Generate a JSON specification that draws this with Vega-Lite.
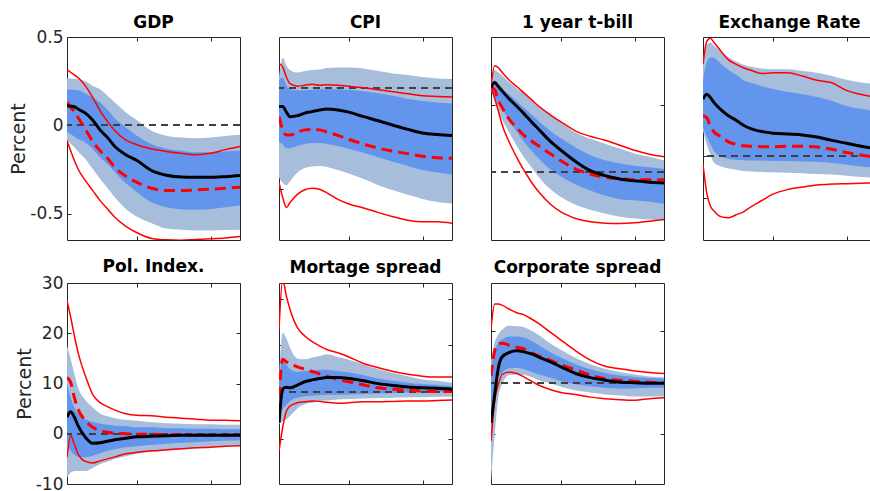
{
"$schema": "https://vega.github.io/schema/vega-lite/v6.json",
"padding": {"left": 9, "top": 14, "right": 0, "bottom": 0},
"background": "white",
"datasets": {"irf": [
{"p":"GDP","h":1,"lo1":-0.084,"hi1":0.266,"lo2":-0.04,"hi2":0.204,"med":0.11,"alt":0.129,"rlo":-0.088,"rhi":0.315},
{"p":"GDP","h":2,"lo1":-0.103,"hi1":0.265,"lo2":-0.05,"hi2":0.202,"med":0.108,"alt":0.101,"rlo":-0.144,"rhi":0.3},
{"p":"GDP","h":3,"lo1":-0.125,"hi1":0.263,"lo2":-0.065,"hi2":0.2,"med":0.105,"alt":0.078,"rlo":-0.2,"rhi":0.285},
{"p":"GDP","h":4,"lo1":-0.148,"hi1":0.261,"lo2":-0.078,"hi2":0.199,"med":0.092,"alt":0.044,"rlo":-0.248,"rhi":0.27},
{"p":"GDP","h":6,"lo1":-0.191,"hi1":0.25,"lo2":-0.097,"hi2":0.18,"med":0.069,"alt":-0.022,"rlo":-0.314,"rhi":0.223},
{"p":"GDP","h":8,"lo1":-0.248,"hi1":0.223,"lo2":-0.135,"hi2":0.157,"med":0.029,"alt":-0.093,"rlo":-0.37,"rhi":0.157},
{"p":"GDP","h":10,"lo1":-0.304,"hi1":0.204,"lo2":-0.182,"hi2":0.129,"med":-0.027,"alt":-0.144,"rlo":-0.427,"rhi":0.082},
{"p":"GDP","h":12,"lo1":-0.355,"hi1":0.167,"lo2":-0.219,"hi2":0.088,"med":-0.069,"alt":-0.187,"rlo":-0.474,"rhi":0.022},
{"p":"GDP","h":14,"lo1":-0.408,"hi1":0.129,"lo2":-0.266,"hi2":0.04,"med":-0.12,"alt":-0.238,"rlo":-0.521,"rhi":-0.031},
{"p":"GDP","h":17,"lo1":-0.474,"hi1":0.073,"lo2":-0.329,"hi2":-0.012,"med":-0.167,"alt":-0.289,"rlo":-0.573,"rhi":-0.084},
{"p":"GDP","h":20,"lo1":-0.517,"hi1":0.029,"lo2":-0.379,"hi2":-0.059,"med":-0.2,"alt":-0.323,"rlo":-0.609,"rhi":-0.11},
{"p":"GDP","h":24,"lo1":-0.555,"hi1":-0.031,"lo2":-0.436,"hi2":-0.108,"med":-0.257,"alt":-0.357,"rlo":-0.641,"rhi":-0.135},
{"p":"GDP","h":28,"lo1":-0.585,"hi1":-0.059,"lo2":-0.464,"hi2":-0.133,"med":-0.283,"alt":-0.37,"rlo":-0.649,"rhi":-0.148},
{"p":"GDP","h":32,"lo1":-0.592,"hi1":-0.069,"lo2":-0.476,"hi2":-0.144,"med":-0.293,"alt":-0.37,"rlo":-0.651,"rhi":-0.159},
{"p":"GDP","h":36,"lo1":-0.596,"hi1":-0.073,"lo2":-0.479,"hi2":-0.153,"med":-0.295,"alt":-0.366,"rlo":-0.647,"rhi":-0.167},
{"p":"GDP","h":40,"lo1":-0.596,"hi1":-0.069,"lo2":-0.474,"hi2":-0.153,"med":-0.295,"alt":-0.362,"rlo":-0.643,"rhi":-0.159},
{"p":"GDP","h":44,"lo1":-0.594,"hi1":-0.061,"lo2":-0.464,"hi2":-0.148,"med":-0.291,"alt":-0.357,"rlo":-0.638,"rhi":-0.138},
{"p":"GDP","h":48,"lo1":-0.592,"hi1":-0.054,"lo2":-0.455,"hi2":-0.144,"med":-0.285,"alt":-0.351,"rlo":-0.63,"rhi":-0.12},
{"p":"CPI","h":1,"lo1":-0.177,"hi1":0.02,"lo2":-0.106,"hi2":0.015,"med":-0.037,"alt":-0.057,"rlo":-0.187,"rhi":0.048},
{"p":"CPI","h":2,"lo1":-0.187,"hi1":0.059,"lo2":-0.112,"hi2":0.02,"med":-0.037,"alt":-0.083,"rlo":-0.216,"rhi":0.041},
{"p":"CPI","h":3,"lo1":-0.192,"hi1":0.044,"lo2":-0.119,"hi2":0.005,"med":-0.048,"alt":-0.093,"rlo":-0.236,"rhi":0.021},
{"p":"CPI","h":4,"lo1":-0.184,"hi1":0.035,"lo2":-0.119,"hi2":-0.003,"med":-0.057,"alt":-0.093,"rlo":-0.226,"rhi":0.008},
{"p":"CPI","h":6,"lo1":-0.167,"hi1":0.03,"lo2":-0.115,"hi2":-0.005,"med":-0.055,"alt":-0.088,"rlo":-0.21,"rhi":0.003},
{"p":"CPI","h":8,"lo1":-0.158,"hi1":0.033,"lo2":-0.111,"hi2":-0.005,"med":-0.05,"alt":-0.083,"rlo":-0.201,"rhi":0.005},
{"p":"CPI","h":10,"lo1":-0.155,"hi1":0.035,"lo2":-0.109,"hi2":-0.004,"med":-0.047,"alt":-0.082,"rlo":-0.198,"rhi":0.007},
{"p":"CPI","h":12,"lo1":-0.154,"hi1":0.036,"lo2":-0.109,"hi2":-0.003,"med":-0.044,"alt":-0.083,"rlo":-0.2,"rhi":0.005},
{"p":"CPI","h":14,"lo1":-0.156,"hi1":0.039,"lo2":-0.111,"hi2":-0.003,"med":-0.042,"alt":-0.087,"rlo":-0.207,"rhi":0.006},
{"p":"CPI","h":17,"lo1":-0.162,"hi1":0.04,"lo2":-0.115,"hi2":-0.003,"med":-0.044,"alt":-0.094,"rlo":-0.22,"rhi":0.005},
{"p":"CPI","h":20,"lo1":-0.169,"hi1":0.04,"lo2":-0.12,"hi2":-0.004,"med":-0.048,"alt":-0.102,"rlo":-0.229,"rhi":0.003},
{"p":"CPI","h":24,"lo1":-0.18,"hi1":0.038,"lo2":-0.128,"hi2":-0.007,"med":-0.057,"alt":-0.111,"rlo":-0.237,"rhi":0.0},
{"p":"CPI","h":28,"lo1":-0.192,"hi1":0.033,"lo2":-0.137,"hi2":-0.011,"med":-0.065,"alt":-0.119,"rlo":-0.246,"rhi":-0.004},
{"p":"CPI","h":32,"lo1":-0.202,"hi1":0.028,"lo2":-0.146,"hi2":-0.016,"med":-0.074,"alt":-0.125,"rlo":-0.254,"rhi":-0.008},
{"p":"CPI","h":36,"lo1":-0.211,"hi1":0.025,"lo2":-0.154,"hi2":-0.022,"med":-0.082,"alt":-0.13,"rlo":-0.261,"rhi":-0.012},
{"p":"CPI","h":40,"lo1":-0.219,"hi1":0.021,"lo2":-0.162,"hi2":-0.026,"med":-0.089,"alt":-0.135,"rlo":-0.264,"rhi":-0.016},
{"p":"CPI","h":44,"lo1":-0.225,"hi1":0.018,"lo2":-0.167,"hi2":-0.029,"med":-0.092,"alt":-0.138,"rlo":-0.264,"rhi":-0.017},
{"p":"CPI","h":48,"lo1":-0.228,"hi1":0.017,"lo2":-0.171,"hi2":-0.031,"med":-0.094,"alt":-0.139,"rlo":-0.267,"rhi":-0.018},
{"p":"TB","h":1,"lo1":0.61,"hi1":0.659,"lo2":0.61,"hi2":0.646,"med":0.627,"alt":0.627,"rlo":0.622,"rhi":0.634},
{"p":"TB","h":2,"lo1":0.524,"hi1":0.756,"lo2":0.561,"hi2":0.678,"med":0.663,"alt":0.61,"rlo":0.549,"rhi":0.788},
{"p":"TB","h":3,"lo1":0.451,"hi1":0.737,"lo2":0.512,"hi2":0.651,"med":0.634,"alt":0.529,"rlo":0.451,"rhi":0.773},
{"p":"TB","h":4,"lo1":0.39,"hi1":0.715,"lo2":0.471,"hi2":0.622,"med":0.602,"alt":0.48,"rlo":0.354,"rhi":0.739},
{"p":"TB","h":6,"lo1":0.293,"hi1":0.666,"lo2":0.38,"hi2":0.573,"med":0.541,"alt":0.39,"rlo":0.22,"rhi":0.68},
{"p":"TB","h":8,"lo1":0.195,"hi1":0.622,"lo2":0.3,"hi2":0.524,"med":0.488,"alt":0.329,"rlo":0.11,"rhi":0.634},
{"p":"TB","h":10,"lo1":0.11,"hi1":0.578,"lo2":0.225,"hi2":0.476,"med":0.432,"alt":0.273,"rlo":0.012,"rhi":0.585},
{"p":"TB","h":12,"lo1":0.037,"hi1":0.534,"lo2":0.16,"hi2":0.427,"med":0.373,"alt":0.232,"rlo":-0.073,"rhi":0.537},
{"p":"TB","h":14,"lo1":-0.037,"hi1":0.49,"lo2":0.1,"hi2":0.378,"med":0.317,"alt":0.195,"rlo":-0.146,"rhi":0.488},
{"p":"TB","h":17,"lo1":-0.122,"hi1":0.432,"lo2":0.025,"hi2":0.31,"med":0.232,"alt":0.139,"rlo":-0.232,"rhi":0.427},
{"p":"TB","h":20,"lo1":-0.183,"hi1":0.371,"lo2":-0.03,"hi2":0.251,"med":0.163,"alt":0.085,"rlo":-0.293,"rhi":0.373},
{"p":"TB","h":24,"lo1":-0.239,"hi1":0.293,"lo2":-0.09,"hi2":0.183,"med":0.08,"alt":0.024,"rlo":-0.341,"rhi":0.305},
{"p":"TB","h":28,"lo1":-0.276,"hi1":0.249,"lo2":-0.134,"hi2":0.127,"med":0.012,"alt":-0.012,"rlo":-0.366,"rhi":0.266},
{"p":"TB","h":32,"lo1":-0.305,"hi1":0.212,"lo2":-0.171,"hi2":0.09,"med":-0.024,"alt":-0.037,"rlo":-0.376,"rhi":0.237},
{"p":"TB","h":36,"lo1":-0.329,"hi1":0.176,"lo2":-0.198,"hi2":0.066,"med":-0.049,"alt":-0.046,"rlo":-0.378,"rhi":0.2},
{"p":"TB","h":40,"lo1":-0.341,"hi1":0.139,"lo2":-0.207,"hi2":0.049,"med":-0.063,"alt":-0.054,"rlo":-0.373,"rhi":0.163},
{"p":"TB","h":44,"lo1":-0.349,"hi1":0.115,"lo2":-0.217,"hi2":0.037,"med":-0.073,"alt":-0.054,"rlo":-0.361,"rhi":0.134},
{"p":"TB","h":48,"lo1":-0.354,"hi1":0.09,"lo2":-0.232,"hi2":0.024,"med":-0.078,"alt":-0.054,"rlo":-0.349,"rhi":0.115},
{"p":"EX","h":1,"lo1":0.06,"hi1":0.23,"lo2":0.067,"hi2":0.179,"med":0.135,"alt":0.095,"rlo":-0.02,"rhi":0.218},
{"p":"EX","h":2,"lo1":0.028,"hi1":0.264,"lo2":0.046,"hi2":0.222,"med":0.147,"alt":0.091,"rlo":-0.087,"rhi":0.272},
{"p":"EX","h":3,"lo1":0.004,"hi1":0.27,"lo2":0.028,"hi2":0.234,"med":0.139,"alt":0.071,"rlo":-0.119,"rhi":0.28},
{"p":"EX","h":4,"lo1":-0.016,"hi1":0.262,"lo2":0.012,"hi2":0.233,"med":0.127,"alt":0.057,"rlo":-0.131,"rhi":0.27},
{"p":"EX","h":6,"lo1":-0.025,"hi1":0.248,"lo2":-0.002,"hi2":0.218,"med":0.109,"alt":0.046,"rlo":-0.145,"rhi":0.248},
{"p":"EX","h":8,"lo1":-0.03,"hi1":0.234,"lo2":-0.007,"hi2":0.204,"med":0.095,"alt":0.033,"rlo":-0.147,"rhi":0.228},
{"p":"EX","h":10,"lo1":-0.033,"hi1":0.225,"lo2":-0.009,"hi2":0.193,"med":0.085,"alt":0.028,"rlo":-0.14,"rhi":0.218},
{"p":"EX","h":12,"lo1":-0.036,"hi1":0.217,"lo2":-0.01,"hi2":0.18,"med":0.073,"alt":0.024,"rlo":-0.133,"rhi":0.21},
{"p":"EX","h":14,"lo1":-0.037,"hi1":0.212,"lo2":-0.011,"hi2":0.174,"med":0.065,"alt":0.023,"rlo":-0.121,"rhi":0.204},
{"p":"EX","h":17,"lo1":-0.038,"hi1":0.208,"lo2":-0.011,"hi2":0.166,"med":0.058,"alt":0.022,"rlo":-0.106,"rhi":0.196},
{"p":"EX","h":20,"lo1":-0.039,"hi1":0.206,"lo2":-0.012,"hi2":0.159,"med":0.054,"alt":0.022,"rlo":-0.091,"rhi":0.198},
{"p":"EX","h":24,"lo1":-0.04,"hi1":0.206,"lo2":-0.012,"hi2":0.152,"med":0.052,"alt":0.023,"rlo":-0.08,"rhi":0.198},
{"p":"EX","h":28,"lo1":-0.041,"hi1":0.202,"lo2":-0.013,"hi2":0.147,"med":0.05,"alt":0.023,"rlo":-0.074,"rhi":0.19},
{"p":"EX","h":32,"lo1":-0.043,"hi1":0.198,"lo2":-0.014,"hi2":0.14,"med":0.045,"alt":0.021,"rlo":-0.069,"rhi":0.18},
{"p":"EX","h":36,"lo1":-0.044,"hi1":0.19,"lo2":-0.017,"hi2":0.131,"med":0.037,"alt":0.016,"rlo":-0.067,"rhi":0.174},
{"p":"EX","h":40,"lo1":-0.047,"hi1":0.181,"lo2":-0.021,"hi2":0.119,"med":0.03,"alt":0.008,"rlo":-0.066,"rhi":0.156},
{"p":"EX","h":44,"lo1":-0.05,"hi1":0.175,"lo2":-0.025,"hi2":0.112,"med":0.023,"alt":0.002,"rlo":-0.065,"rhi":0.146},
{"p":"EX","h":48,"lo1":-0.052,"hi1":0.171,"lo2":-0.028,"hi2":0.106,"med":0.017,"alt":-0.004,"rlo":-0.064,"rhi":0.14},
{"p":"PI","h":1,"lo1":-8.7,"hi1":17.5,"lo2":-2.1,"hi2":10.2,"med":3.3,"alt":11.2,"rlo":-4.7,"rhi":26.5},
{"p":"PI","h":2,"lo1":-7.7,"hi1":14.9,"lo2":-3.4,"hi2":7.2,"med":4.4,"alt":10.2,"rlo":-0.4,"rhi":23.2},
{"p":"PI","h":3,"lo1":-7.4,"hi1":11.9,"lo2":-4.2,"hi2":5.2,"med":3.3,"alt":7.2,"rlo":-2.1,"rhi":19.5},
{"p":"PI","h":4,"lo1":-7.4,"hi1":9.2,"lo2":-4.6,"hi2":4.0,"med":1.6,"alt":4.9,"rlo":-4.0,"rhi":16.2},
{"p":"PI","h":6,"lo1":-7.4,"hi1":6.7,"lo2":-4.7,"hi2":2.9,"med":-0.7,"alt":2.6,"rlo":-5.5,"rhi":11.5},
{"p":"PI","h":8,"lo1":-6.8,"hi1":5.2,"lo2":-4.4,"hi2":2.4,"med":-1.9,"alt":1.3,"rlo":-5.8,"rhi":7.8},
{"p":"PI","h":10,"lo1":-6.0,"hi1":4.0,"lo2":-3.9,"hi2":2.0,"med":-1.8,"alt":0.6,"rlo":-5.4,"rhi":6.2},
{"p":"PI","h":12,"lo1":-5.5,"hi1":3.5,"lo2":-3.4,"hi2":1.8,"med":-1.5,"alt":0.3,"rlo":-5.0,"rhi":5.4},
{"p":"PI","h":14,"lo1":-5.0,"hi1":3.1,"lo2":-3.1,"hi2":1.6,"med":-1.2,"alt":0.1,"rlo":-4.6,"rhi":4.7},
{"p":"PI","h":17,"lo1":-4.5,"hi1":2.8,"lo2":-2.7,"hi2":1.5,"med":-0.9,"alt":0.0,"rlo":-4.0,"rhi":4.0},
{"p":"PI","h":20,"lo1":-4.0,"hi1":2.6,"lo2":-2.5,"hi2":1.3,"med":-0.6,"alt":-0.1,"rlo":-3.7,"rhi":3.7},
{"p":"PI","h":24,"lo1":-3.6,"hi1":2.3,"lo2":-2.2,"hi2":1.3,"med":-0.5,"alt":-0.1,"rlo":-3.4,"rhi":3.6},
{"p":"PI","h":28,"lo1":-3.4,"hi1":2.1,"lo2":-2.0,"hi2":1.1,"med":-0.4,"alt":-0.2,"rlo":-3.2,"rhi":3.3},
{"p":"PI","h":32,"lo1":-3.1,"hi1":2.0,"lo2":-1.8,"hi2":1.1,"med":-0.3,"alt":-0.2,"rlo":-3.0,"rhi":3.1},
{"p":"PI","h":36,"lo1":-2.9,"hi1":1.9,"lo2":-1.7,"hi2":1.0,"med":-0.3,"alt":-0.3,"rlo":-2.8,"rhi":2.9},
{"p":"PI","h":40,"lo1":-2.7,"hi1":1.9,"lo2":-1.5,"hi2":1.0,"med":-0.3,"alt":-0.3,"rlo":-2.7,"rhi":2.7},
{"p":"PI","h":44,"lo1":-2.6,"hi1":1.8,"lo2":-1.4,"hi2":0.9,"med":-0.3,"alt":-0.3,"rlo":-2.5,"rhi":2.7},
{"p":"PI","h":48,"lo1":-2.4,"hi1":1.8,"lo2":-1.3,"hi2":0.9,"med":-0.3,"alt":-0.3,"rlo":-2.4,"rhi":2.6},
{"p":"MS","h":1,"lo1":-6.9,"hi1":3.1,"lo2":-5.5,"hi2":1.6,"med":-6.6,"alt":-1.2,"rlo":-12.6,"rhi":13.4},
{"p":"MS","h":2,"lo1":-6.2,"hi1":12.7,"lo2":-3.7,"hi2":7.2,"med":0.6,"alt":7.0,"rlo":-7.6,"rhi":24.1},
{"p":"MS","h":3,"lo1":-5.9,"hi1":11.5,"lo2":-2.8,"hi2":5.9,"med":1.0,"alt":6.5,"rlo":-4.1,"rhi":20.6},
{"p":"MS","h":4,"lo1":-5.1,"hi1":9.5,"lo2":-1.9,"hi2":4.9,"med":0.9,"alt":6.1,"rlo":-3.0,"rhi":17.7},
{"p":"MS","h":6,"lo1":-3.5,"hi1":7.2,"lo2":-1.2,"hi2":4.3,"med":1.5,"alt":5.4,"rlo":-2.3,"rhi":13.8},
{"p":"MS","h":8,"lo1":-2.6,"hi1":7.0,"lo2":-0.9,"hi2":4.5,"med":2.2,"alt":4.9,"rlo":-2.1,"rhi":12.0},
{"p":"MS","h":10,"lo1":-2.3,"hi1":7.4,"lo2":-0.8,"hi2":4.6,"med":2.6,"alt":4.4,"rlo":-1.9,"rhi":10.8},
{"p":"MS","h":12,"lo1":-1.9,"hi1":7.7,"lo2":-0.7,"hi2":4.8,"med":2.9,"alt":3.9,"rlo":-2.0,"rhi":9.9},
{"p":"MS","h":14,"lo1":-1.8,"hi1":8.1,"lo2":-0.6,"hi2":4.8,"med":3.1,"alt":3.4,"rlo":-2.2,"rhi":9.1},
{"p":"MS","h":17,"lo1":-1.6,"hi1":7.5,"lo2":-0.6,"hi2":4.5,"med":3.1,"alt":2.7,"rlo":-2.4,"rhi":8.4},
{"p":"MS","h":20,"lo1":-1.5,"hi1":6.9,"lo2":-0.5,"hi2":4.2,"med":2.9,"alt":2.2,"rlo":-2.3,"rhi":7.5},
{"p":"MS","h":24,"lo1":-1.4,"hi1":5.9,"lo2":-0.4,"hi2":3.6,"med":2.4,"alt":1.5,"rlo":-2.1,"rhi":6.1},
{"p":"MS","h":28,"lo1":-1.3,"hi1":4.9,"lo2":-0.3,"hi2":2.9,"med":1.8,"alt":0.9,"rlo":-2.1,"rhi":5.2},
{"p":"MS","h":32,"lo1":-1.2,"hi1":4.1,"lo2":-0.2,"hi2":2.4,"med":1.4,"alt":0.6,"rlo":-2.0,"rhi":4.4},
{"p":"MS","h":36,"lo1":-1.1,"hi1":3.4,"lo2":-0.1,"hi2":2.0,"med":1.1,"alt":0.4,"rlo":-1.9,"rhi":3.8},
{"p":"MS","h":40,"lo1":-1.1,"hi1":2.7,"lo2":-0.1,"hi2":1.7,"med":0.9,"alt":0.2,"rlo":-1.9,"rhi":3.4},
{"p":"MS","h":44,"lo1":-1.0,"hi1":2.4,"lo2":0.0,"hi2":1.5,"med":0.8,"alt":0.1,"rlo":-1.8,"rhi":3.2},
{"p":"MS","h":48,"lo1":-1.0,"hi1":2.0,"lo2":0.1,"hi2":1.3,"med":0.6,"alt":0.1,"rlo":-1.7,"rhi":3.2},
{"p":"CS","h":1,"lo1":-19.2,"hi1":4.2,"lo2":-10.7,"hi2":2.3,"med":-7.8,"alt":1.3,"rlo":-11.4,"rhi":10.4},
{"p":"CS","h":2,"lo1":-10.1,"hi1":7.8,"lo2":-2.9,"hi2":6.2,"med":-2.3,"alt":6.2,"rlo":-3.6,"rhi":15.3},
{"p":"CS","h":3,"lo1":-2.9,"hi1":9.4,"lo2":1.0,"hi2":7.8,"med":2.9,"alt":7.5,"rlo":-0.3,"rhi":15.3},
{"p":"CS","h":4,"lo1":-0.3,"hi1":10.3,"lo2":1.9,"hi2":8.4,"med":5.0,"alt":7.7,"rlo":1.6,"rhi":15.1},
{"p":"CS","h":6,"lo1":1.5,"hi1":11.1,"lo2":2.8,"hi2":9.0,"med":5.9,"alt":7.3,"rlo":2.1,"rhi":14.3},
{"p":"CS","h":8,"lo1":1.6,"hi1":11.0,"lo2":2.9,"hi2":9.0,"med":6.2,"alt":6.9,"rlo":1.8,"rhi":13.6},
{"p":"CS","h":10,"lo1":1.5,"hi1":10.8,"lo2":2.6,"hi2":8.8,"med":6.0,"alt":6.6,"rlo":1.1,"rhi":13.2},
{"p":"CS","h":12,"lo1":1.1,"hi1":10.1,"lo2":2.1,"hi2":8.1,"med":5.6,"alt":5.8,"rlo":0.3,"rhi":12.4},
{"p":"CS","h":14,"lo1":0.5,"hi1":9.3,"lo2":1.6,"hi2":7.3,"med":5.0,"alt":5.2,"rlo":-0.5,"rhi":11.5},
{"p":"CS","h":17,"lo1":-0.1,"hi1":7.7,"lo2":1.0,"hi2":6.0,"med":4.1,"alt":4.4,"rlo":-1.3,"rhi":9.9},
{"p":"CS","h":20,"lo1":-0.8,"hi1":6.4,"lo2":0.3,"hi2":4.9,"med":3.1,"alt":3.5,"rlo":-1.9,"rhi":8.3},
{"p":"CS","h":24,"lo1":-1.5,"hi1":4.8,"lo2":-0.3,"hi2":3.6,"med":1.8,"alt":2.5,"rlo":-2.3,"rhi":6.2},
{"p":"CS","h":28,"lo1":-1.9,"hi1":3.6,"lo2":-0.7,"hi2":2.6,"med":1.0,"alt":1.5,"rlo":-2.8,"rhi":4.4},
{"p":"CS","h":32,"lo1":-2.3,"hi1":2.7,"lo2":-1.0,"hi2":1.9,"med":0.5,"alt":0.8,"rlo":-3.1,"rhi":3.2},
{"p":"CS","h":36,"lo1":-2.5,"hi1":2.1,"lo2":-1.1,"hi2":1.4,"med":0.1,"alt":0.5,"rlo":-3.3,"rhi":2.7},
{"p":"CS","h":40,"lo1":-2.7,"hi1":1.6,"lo2":-1.1,"hi2":1.1,"med":0.0,"alt":0.3,"rlo":-3.4,"rhi":2.3},
{"p":"CS","h":44,"lo1":-2.7,"hi1":1.2,"lo2":-1.0,"hi2":0.9,"med":-0.1,"alt":0.1,"rlo":-3.1,"rhi":2.0},
{"p":"CS","h":48,"lo1":-2.7,"hi1":1.0,"lo2":-1.0,"hi2":0.8,"med":-0.1,"alt":0.0,"rlo":-2.9,"rhi":1.8}
]},
"data": {"name": "irf"},
"columns": 4,
"bounds": "flush",
"spacing": {"row": 43, "column": 39},
"concat": [
{"title": {"text": "GDP", "offset": -4}, "width": 173, "height": 203,
 "transform": [{"filter": "datum.p == 'GDP'"}],
 "layer": [
  {"mark": {"type": "area", "color": "#A6BDDB", "clip": true, "interpolate": "monotone"},
   "encoding": {"x": {"field": "h", "type": "quantitative", "scale": {"domain": [1, 48], "nice": false}, "axis": {"orient": "bottom", "values": [20, 40], "labels": false, "title": null}},
    "y": {"field": "lo1", "type": "quantitative", "scale": {"domain": [-0.65, 0.5], "nice": false, "zero": false}, "axis": {"orient": "left", "values": [-0.5, 0, 0.5], "title": "Percent", "format": "~r", "labelExpr": "replace(datum.label, '\u2212', '-')"}},
    "y2": {"field": "hi1"}}},
  {"mark": {"type": "area", "color": "#6495ED", "clip": true, "interpolate": "monotone"},
   "encoding": {"x": {"field": "h", "type": "quantitative", "scale": {"domain": [1, 48], "nice": false}, "axis": {"orient": "top", "values": [20, 40], "labels": false, "title": null}},
    "y": {"field": "lo2", "type": "quantitative", "scale": {"domain": [-0.65, 0.5], "nice": false, "zero": false}, "axis": {"orient": "right", "values": [-0.5, 0, 0.5], "labels": false, "title": null}},
    "y2": {"field": "hi2"}}},
  {"mark": {"type": "rule", "color": "#404040", "strokeDash": [7, 5], "strokeWidth": 1}, "encoding": {"y": {"datum": 0, "type": "quantitative", "scale": {"domain": [-0.65, 0.5], "nice": false, "zero": false}, "axis": null}}},
  {"mark": {"type": "line", "color": "#FF0000", "strokeWidth": 1.5, "clip": true, "interpolate": "monotone"}, "encoding": {"x": {"field": "h", "type": "quantitative", "scale": {"domain": [1, 48], "nice": false}, "axis": null}, "y": {"field": "rhi", "type": "quantitative", "scale": {"domain": [-0.65, 0.5], "nice": false, "zero": false}, "axis": null}}},
  {"mark": {"type": "line", "color": "#FF0000", "strokeWidth": 1.5, "clip": true, "interpolate": "monotone"}, "encoding": {"x": {"field": "h", "type": "quantitative", "scale": {"domain": [1, 48], "nice": false}, "axis": null}, "y": {"field": "rlo", "type": "quantitative", "scale": {"domain": [-0.65, 0.5], "nice": false, "zero": false}, "axis": null}}},
  {"mark": {"type": "line", "color": "#FF0000", "strokeWidth": 3, "strokeDash": [11, 6], "clip": true, "interpolate": "monotone"}, "encoding": {"x": {"field": "h", "type": "quantitative", "scale": {"domain": [1, 48], "nice": false}, "axis": null}, "y": {"field": "alt", "type": "quantitative", "scale": {"domain": [-0.65, 0.5], "nice": false, "zero": false}, "axis": null}}},
  {"mark": {"type": "line", "color": "#000000", "strokeWidth": 3, "clip": true, "interpolate": "monotone"}, "encoding": {"x": {"field": "h", "type": "quantitative", "scale": {"domain": [1, 48], "nice": false}, "axis": null}, "y": {"field": "med", "type": "quantitative", "scale": {"domain": [-0.65, 0.5], "nice": false, "zero": false}, "axis": null}}}
 ],
 "resolve": {"axis": {"x": "independent", "y": "independent"}}},
{"title": {"text": "CPI", "offset": 4.3}, "width": 173, "height": 203,
 "transform": [{"filter": "datum.p == 'CPI'"}],
 "layer": [
  {"mark": {"type": "area", "color": "#A6BDDB", "clip": true, "interpolate": "monotone"},
   "encoding": {"x": {"field": "h", "type": "quantitative", "scale": {"domain": [1, 48], "nice": false}, "axis": {"orient": "bottom", "values": [20, 40], "labels": false, "title": null}},
    "y": {"field": "lo1", "type": "quantitative", "scale": {"domain": [-0.3, 0.1], "nice": false, "zero": false}, "axis": {"orient": "left", "values": [-0.2, -0.1, 0], "labels": false, "title": null}},
    "y2": {"field": "hi1"}}},
  {"mark": {"type": "area", "color": "#6495ED", "clip": true, "interpolate": "monotone"},
   "encoding": {"x": {"field": "h", "type": "quantitative", "scale": {"domain": [1, 48], "nice": false}, "axis": {"orient": "top", "values": [20, 40], "labels": false, "title": null}},
    "y": {"field": "lo2", "type": "quantitative", "scale": {"domain": [-0.3, 0.1], "nice": false, "zero": false}, "axis": {"orient": "right", "values": [-0.2, -0.1, 0], "labels": false, "title": null}},
    "y2": {"field": "hi2"}}},
  {"mark": {"type": "rule", "color": "#404040", "strokeDash": [7, 5], "strokeWidth": 1}, "encoding": {"y": {"datum": 0, "type": "quantitative", "scale": {"domain": [-0.3, 0.1], "nice": false, "zero": false}, "axis": null}}},
  {"mark": {"type": "line", "color": "#FF0000", "strokeWidth": 1.5, "clip": true, "interpolate": "monotone"}, "encoding": {"x": {"field": "h", "type": "quantitative", "scale": {"domain": [1, 48], "nice": false}, "axis": null}, "y": {"field": "rhi", "type": "quantitative", "scale": {"domain": [-0.3, 0.1], "nice": false, "zero": false}, "axis": null}}},
  {"mark": {"type": "line", "color": "#FF0000", "strokeWidth": 1.5, "clip": true, "interpolate": "monotone"}, "encoding": {"x": {"field": "h", "type": "quantitative", "scale": {"domain": [1, 48], "nice": false}, "axis": null}, "y": {"field": "rlo", "type": "quantitative", "scale": {"domain": [-0.3, 0.1], "nice": false, "zero": false}, "axis": null}}},
  {"mark": {"type": "line", "color": "#FF0000", "strokeWidth": 3, "strokeDash": [11, 6], "clip": true, "interpolate": "monotone"}, "encoding": {"x": {"field": "h", "type": "quantitative", "scale": {"domain": [1, 48], "nice": false}, "axis": null}, "y": {"field": "alt", "type": "quantitative", "scale": {"domain": [-0.3, 0.1], "nice": false, "zero": false}, "axis": null}}},
  {"mark": {"type": "line", "color": "#000000", "strokeWidth": 3, "clip": true, "interpolate": "monotone"}, "encoding": {"x": {"field": "h", "type": "quantitative", "scale": {"domain": [1, 48], "nice": false}, "axis": null}, "y": {"field": "med", "type": "quantitative", "scale": {"domain": [-0.3, 0.1], "nice": false, "zero": false}, "axis": null}}}
 ],
 "resolve": {"axis": {"x": "independent", "y": "independent"}}},
{"title": {"text": "1 year t-bill", "offset": 4.3}, "width": 173, "height": 203,
 "transform": [{"filter": "datum.p == 'TB'"}],
 "layer": [
  {"mark": {"type": "area", "color": "#A6BDDB", "clip": true, "interpolate": "monotone"},
   "encoding": {"x": {"field": "h", "type": "quantitative", "scale": {"domain": [1, 48], "nice": false}, "axis": {"orient": "bottom", "values": [20, 40], "labels": false, "title": null}},
    "y": {"field": "lo1", "type": "quantitative", "scale": {"domain": [-0.5, 1], "nice": false, "zero": false}, "axis": {"orient": "left", "values": [0, 0.5], "labels": false, "title": null}},
    "y2": {"field": "hi1"}}},
  {"mark": {"type": "area", "color": "#6495ED", "clip": true, "interpolate": "monotone"},
   "encoding": {"x": {"field": "h", "type": "quantitative", "scale": {"domain": [1, 48], "nice": false}, "axis": {"orient": "top", "values": [20, 40], "labels": false, "title": null}},
    "y": {"field": "lo2", "type": "quantitative", "scale": {"domain": [-0.5, 1], "nice": false, "zero": false}, "axis": {"orient": "right", "values": [0, 0.5], "labels": false, "title": null}},
    "y2": {"field": "hi2"}}},
  {"mark": {"type": "rule", "color": "#404040", "strokeDash": [7, 5], "strokeWidth": 1}, "encoding": {"y": {"datum": 0, "type": "quantitative", "scale": {"domain": [-0.5, 1], "nice": false, "zero": false}, "axis": null}}},
  {"mark": {"type": "line", "color": "#FF0000", "strokeWidth": 1.5, "clip": true, "interpolate": "monotone"}, "encoding": {"x": {"field": "h", "type": "quantitative", "scale": {"domain": [1, 48], "nice": false}, "axis": null}, "y": {"field": "rhi", "type": "quantitative", "scale": {"domain": [-0.5, 1], "nice": false, "zero": false}, "axis": null}}},
  {"mark": {"type": "line", "color": "#FF0000", "strokeWidth": 1.5, "clip": true, "interpolate": "monotone"}, "encoding": {"x": {"field": "h", "type": "quantitative", "scale": {"domain": [1, 48], "nice": false}, "axis": null}, "y": {"field": "rlo", "type": "quantitative", "scale": {"domain": [-0.5, 1], "nice": false, "zero": false}, "axis": null}}},
  {"mark": {"type": "line", "color": "#FF0000", "strokeWidth": 3, "strokeDash": [11, 6], "clip": true, "interpolate": "monotone"}, "encoding": {"x": {"field": "h", "type": "quantitative", "scale": {"domain": [1, 48], "nice": false}, "axis": null}, "y": {"field": "alt", "type": "quantitative", "scale": {"domain": [-0.5, 1], "nice": false, "zero": false}, "axis": null}}},
  {"mark": {"type": "line", "color": "#000000", "strokeWidth": 3, "clip": true, "interpolate": "monotone"}, "encoding": {"x": {"field": "h", "type": "quantitative", "scale": {"domain": [1, 48], "nice": false}, "axis": null}, "y": {"field": "med", "type": "quantitative", "scale": {"domain": [-0.5, 1], "nice": false, "zero": false}, "axis": null}}}
 ],
 "resolve": {"axis": {"x": "independent", "y": "independent"}}},
{"title": {"text": "Exchange Rate", "offset": 4.3, "dx": 3}, "width": 167, "height": 203,
 "transform": [{"filter": "datum.p == 'EX'"}],
 "layer": [
  {"mark": {"type": "area", "color": "#A6BDDB", "clip": true, "interpolate": "monotone"},
   "encoding": {"x": {"field": "h", "type": "quantitative", "scale": {"domain": [1, 46.37], "nice": false}, "axis": {"orient": "bottom", "values": [20, 40], "labels": false, "title": null}},
    "y": {"field": "lo1", "type": "quantitative", "scale": {"domain": [-0.2, 0.283], "nice": false, "zero": false}, "axis": {"orient": "left", "values": [-0.1, 0, 0.1, 0.2], "labels": false, "title": null}},
    "y2": {"field": "hi1"}}},
  {"mark": {"type": "area", "color": "#6495ED", "clip": true, "interpolate": "monotone"},
   "encoding": {"x": {"field": "h", "type": "quantitative", "scale": {"domain": [1, 46.37], "nice": false}, "axis": {"orient": "top", "values": [20, 40], "labels": false, "title": null}},
    "y": {"field": "lo2", "type": "quantitative", "scale": {"domain": [-0.2, 0.283], "nice": false, "zero": false}, "axis": null},
    "y2": {"field": "hi2"}}},
  {"mark": {"type": "rule", "color": "#404040", "strokeDash": [7, 5], "strokeWidth": 1}, "encoding": {"y": {"datum": 0, "type": "quantitative", "scale": {"domain": [-0.2, 0.283], "nice": false, "zero": false}, "axis": null}}},
  {"mark": {"type": "line", "color": "#FF0000", "strokeWidth": 1.5, "clip": true, "interpolate": "monotone"}, "encoding": {"x": {"field": "h", "type": "quantitative", "scale": {"domain": [1, 46.37], "nice": false}, "axis": null}, "y": {"field": "rhi", "type": "quantitative", "scale": {"domain": [-0.2, 0.283], "nice": false, "zero": false}, "axis": null}}},
  {"mark": {"type": "line", "color": "#FF0000", "strokeWidth": 1.5, "clip": true, "interpolate": "monotone"}, "encoding": {"x": {"field": "h", "type": "quantitative", "scale": {"domain": [1, 46.37], "nice": false}, "axis": null}, "y": {"field": "rlo", "type": "quantitative", "scale": {"domain": [-0.2, 0.283], "nice": false, "zero": false}, "axis": null}}},
  {"mark": {"type": "line", "color": "#FF0000", "strokeWidth": 3, "strokeDash": [11, 6], "clip": true, "interpolate": "monotone"}, "encoding": {"x": {"field": "h", "type": "quantitative", "scale": {"domain": [1, 46.37], "nice": false}, "axis": null}, "y": {"field": "alt", "type": "quantitative", "scale": {"domain": [-0.2, 0.283], "nice": false, "zero": false}, "axis": null}}},
  {"mark": {"type": "line", "color": "#000000", "strokeWidth": 3, "clip": true, "interpolate": "monotone"}, "encoding": {"x": {"field": "h", "type": "quantitative", "scale": {"domain": [1, 46.37], "nice": false}, "axis": null}, "y": {"field": "med", "type": "quantitative", "scale": {"domain": [-0.2, 0.283], "nice": false, "zero": false}, "axis": null}}}
 ],
 "resolve": {"axis": {"x": "independent", "y": "independent"}}},
{"title": {"text": "Pol. Index.", "offset": -2.4}, "width": 173, "height": 201,
 "transform": [{"filter": "datum.p == 'PI'"}],
 "layer": [
  {"mark": {"type": "area", "color": "#A6BDDB", "clip": true, "interpolate": "monotone"},
   "encoding": {"x": {"field": "h", "type": "quantitative", "scale": {"domain": [1, 48], "nice": false}, "axis": {"orient": "bottom", "values": [20, 40], "labels": false, "title": null}},
    "y": {"field": "lo1", "type": "quantitative", "scale": {"domain": [-10, 30], "nice": false, "zero": false}, "axis": {"orient": "left", "values": [-10, 0, 10, 20, 30], "title": "Percent", "format": "~r", "labelExpr": "replace(datum.label, '\u2212', '-')"}},
    "y2": {"field": "hi1"}}},
  {"mark": {"type": "area", "color": "#6495ED", "clip": true, "interpolate": "monotone"},
   "encoding": {"x": {"field": "h", "type": "quantitative", "scale": {"domain": [1, 48], "nice": false}, "axis": {"orient": "top", "values": [20, 40], "labels": false, "title": null}},
    "y": {"field": "lo2", "type": "quantitative", "scale": {"domain": [-10, 30], "nice": false, "zero": false}, "axis": {"orient": "right", "values": [-10, 0, 10, 20, 30], "labels": false, "title": null}},
    "y2": {"field": "hi2"}}},
  {"mark": {"type": "rule", "color": "#404040", "strokeDash": [7, 5], "strokeWidth": 1}, "encoding": {"y": {"datum": 0, "type": "quantitative", "scale": {"domain": [-10, 30], "nice": false, "zero": false}, "axis": null}}},
  {"mark": {"type": "line", "color": "#FF0000", "strokeWidth": 1.5, "clip": true, "interpolate": "monotone"}, "encoding": {"x": {"field": "h", "type": "quantitative", "scale": {"domain": [1, 48], "nice": false}, "axis": null}, "y": {"field": "rhi", "type": "quantitative", "scale": {"domain": [-10, 30], "nice": false, "zero": false}, "axis": null}}},
  {"mark": {"type": "line", "color": "#FF0000", "strokeWidth": 1.5, "clip": true, "interpolate": "monotone"}, "encoding": {"x": {"field": "h", "type": "quantitative", "scale": {"domain": [1, 48], "nice": false}, "axis": null}, "y": {"field": "rlo", "type": "quantitative", "scale": {"domain": [-10, 30], "nice": false, "zero": false}, "axis": null}}},
  {"mark": {"type": "line", "color": "#FF0000", "strokeWidth": 3, "strokeDash": [11, 6], "clip": true, "interpolate": "monotone"}, "encoding": {"x": {"field": "h", "type": "quantitative", "scale": {"domain": [1, 48], "nice": false}, "axis": null}, "y": {"field": "alt", "type": "quantitative", "scale": {"domain": [-10, 30], "nice": false, "zero": false}, "axis": null}}},
  {"mark": {"type": "line", "color": "#000000", "strokeWidth": 3, "clip": true, "interpolate": "monotone"}, "encoding": {"x": {"field": "h", "type": "quantitative", "scale": {"domain": [1, 48], "nice": false}, "axis": null}, "y": {"field": "med", "type": "quantitative", "scale": {"domain": [-10, 30], "nice": false, "zero": false}, "axis": null}}}
 ],
 "resolve": {"axis": {"x": "independent", "y": "independent"}}},
{"title": {"text": "Mortage spread", "offset": 6}, "width": 173, "height": 201,
 "transform": [{"filter": "datum.p == 'MS'"}],
 "layer": [
  {"mark": {"type": "area", "color": "#A6BDDB", "clip": true, "interpolate": "monotone"},
   "encoding": {"x": {"field": "h", "type": "quantitative", "scale": {"domain": [1, 48], "nice": false}, "axis": {"orient": "bottom", "values": [20, 40], "labels": false, "title": null}},
    "y": {"field": "lo1", "type": "quantitative", "scale": {"domain": [-19.7, 23.36], "nice": false, "zero": false}, "axis": {"orient": "left", "values": [-10, 0, 10, 20], "labels": false, "title": null}},
    "y2": {"field": "hi1"}}},
  {"mark": {"type": "area", "color": "#6495ED", "clip": true, "interpolate": "monotone"},
   "encoding": {"x": {"field": "h", "type": "quantitative", "scale": {"domain": [1, 48], "nice": false}, "axis": {"orient": "top", "values": [20, 40], "labels": false, "title": null}},
    "y": {"field": "lo2", "type": "quantitative", "scale": {"domain": [-19.7, 23.36], "nice": false, "zero": false}, "axis": {"orient": "right", "values": [-10, 0, 10, 20], "labels": false, "title": null}},
    "y2": {"field": "hi2"}}},
  {"mark": {"type": "rule", "color": "#404040", "strokeDash": [7, 5], "strokeWidth": 1}, "encoding": {"y": {"datum": 0, "type": "quantitative", "scale": {"domain": [-19.7, 23.36], "nice": false, "zero": false}, "axis": null}}},
  {"mark": {"type": "line", "color": "#FF0000", "strokeWidth": 1.5, "clip": true, "interpolate": "monotone"}, "encoding": {"x": {"field": "h", "type": "quantitative", "scale": {"domain": [1, 48], "nice": false}, "axis": null}, "y": {"field": "rhi", "type": "quantitative", "scale": {"domain": [-19.7, 23.36], "nice": false, "zero": false}, "axis": null}}},
  {"mark": {"type": "line", "color": "#FF0000", "strokeWidth": 1.5, "clip": true, "interpolate": "monotone"}, "encoding": {"x": {"field": "h", "type": "quantitative", "scale": {"domain": [1, 48], "nice": false}, "axis": null}, "y": {"field": "rlo", "type": "quantitative", "scale": {"domain": [-19.7, 23.36], "nice": false, "zero": false}, "axis": null}}},
  {"mark": {"type": "line", "color": "#FF0000", "strokeWidth": 3, "strokeDash": [11, 6], "clip": true, "interpolate": "monotone"}, "encoding": {"x": {"field": "h", "type": "quantitative", "scale": {"domain": [1, 48], "nice": false}, "axis": null}, "y": {"field": "alt", "type": "quantitative", "scale": {"domain": [-19.7, 23.36], "nice": false, "zero": false}, "axis": null}}},
  {"mark": {"type": "line", "color": "#000000", "strokeWidth": 3, "clip": true, "interpolate": "monotone"}, "encoding": {"x": {"field": "h", "type": "quantitative", "scale": {"domain": [1, 48], "nice": false}, "axis": null}, "y": {"field": "med", "type": "quantitative", "scale": {"domain": [-19.7, 23.36], "nice": false, "zero": false}, "axis": null}}}
 ],
 "resolve": {"axis": {"x": "independent", "y": "independent"}}},
{"title": {"text": "Corporate spread", "offset": 6}, "width": 173, "height": 201,
 "transform": [{"filter": "datum.p == 'CS'"}],
 "layer": [
  {"mark": {"type": "area", "color": "#A6BDDB", "clip": true, "interpolate": "monotone"},
   "encoding": {"x": {"field": "h", "type": "quantitative", "scale": {"domain": [1, 48], "nice": false}, "axis": {"orient": "bottom", "values": [20, 40], "labels": false, "title": null}},
    "y": {"field": "lo1", "type": "quantitative", "scale": {"domain": [-19.7, 19.4], "nice": false, "zero": false}, "axis": {"orient": "left", "values": [-10, 0, 10], "labels": false, "title": null}},
    "y2": {"field": "hi1"}}},
  {"mark": {"type": "area", "color": "#6495ED", "clip": true, "interpolate": "monotone"},
   "encoding": {"x": {"field": "h", "type": "quantitative", "scale": {"domain": [1, 48], "nice": false}, "axis": {"orient": "top", "values": [20, 40], "labels": false, "title": null}},
    "y": {"field": "lo2", "type": "quantitative", "scale": {"domain": [-19.7, 19.4], "nice": false, "zero": false}, "axis": {"orient": "right", "values": [-10, 0, 10], "labels": false, "title": null}},
    "y2": {"field": "hi2"}}},
  {"mark": {"type": "rule", "color": "#404040", "strokeDash": [7, 5], "strokeWidth": 1}, "encoding": {"y": {"datum": 0, "type": "quantitative", "scale": {"domain": [-19.7, 19.4], "nice": false, "zero": false}, "axis": null}}},
  {"mark": {"type": "line", "color": "#FF0000", "strokeWidth": 1.5, "clip": true, "interpolate": "monotone"}, "encoding": {"x": {"field": "h", "type": "quantitative", "scale": {"domain": [1, 48], "nice": false}, "axis": null}, "y": {"field": "rhi", "type": "quantitative", "scale": {"domain": [-19.7, 19.4], "nice": false, "zero": false}, "axis": null}}},
  {"mark": {"type": "line", "color": "#FF0000", "strokeWidth": 1.5, "clip": true, "interpolate": "monotone"}, "encoding": {"x": {"field": "h", "type": "quantitative", "scale": {"domain": [1, 48], "nice": false}, "axis": null}, "y": {"field": "rlo", "type": "quantitative", "scale": {"domain": [-19.7, 19.4], "nice": false, "zero": false}, "axis": null}}},
  {"mark": {"type": "line", "color": "#FF0000", "strokeWidth": 3, "strokeDash": [11, 6], "clip": true, "interpolate": "monotone"}, "encoding": {"x": {"field": "h", "type": "quantitative", "scale": {"domain": [1, 48], "nice": false}, "axis": null}, "y": {"field": "alt", "type": "quantitative", "scale": {"domain": [-19.7, 19.4], "nice": false, "zero": false}, "axis": null}}},
  {"mark": {"type": "line", "color": "#000000", "strokeWidth": 3, "clip": true, "interpolate": "monotone"}, "encoding": {"x": {"field": "h", "type": "quantitative", "scale": {"domain": [1, 48], "nice": false}, "axis": null}, "y": {"field": "med", "type": "quantitative", "scale": {"domain": [-19.7, 19.4], "nice": false, "zero": false}, "axis": null}}}
 ],
 "resolve": {"axis": {"x": "independent", "y": "independent"}}}
],
"config": {
 "view": {"stroke": null},
 "font": "DejaVu Sans",
 "axis": {"grid": false, "domainColor": "#262626", "domainWidth": 1, "tickColor": "#262626", "tickWidth": 1, "tickSize": -4, "labelPadding": 8, "labelColor": "#262626", "labelFont": "DejaVu Sans", "labelFontSize": 17, "labelFlush": false, "labelOverlap": false, "titleFont": "DejaVu Sans", "titleFontSize": 19, "titleFontWeight": "normal", "titleColor": "#262626", "titlePadding": 1, "zindex": 1},
 "title": {"font": "DejaVu Sans", "fontSize": 17, "fontWeight": "bold", "color": "#000000", "anchor": "middle"}
}
}
